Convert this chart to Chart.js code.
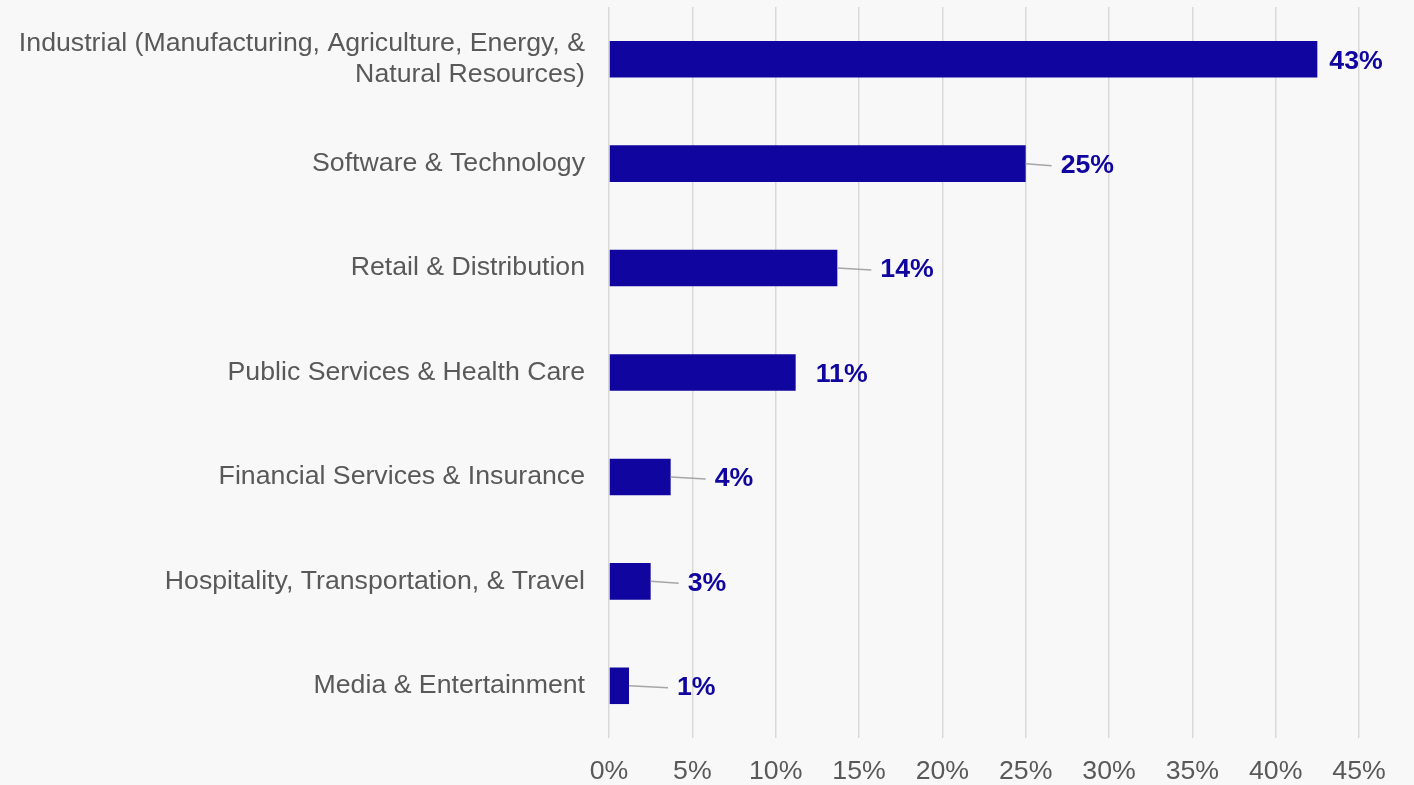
<!DOCTYPE html>
<html>
<head>
<meta charset="utf-8">
<script src="https://cdn.jsdelivr.net/npm/chart.js@4.4.1/dist/chart.umd.min.js"></script>
<style>
    html, body { margin: 0; padding: 0; background: #f8f8f8; }
    #wrap { width: 1414px; height: 785px; position: relative; }
</style>
</head>
<body>
<div id="wrap"><canvas id="industryChart"></canvas></div>
<script>
// data
const categories = [
    ["Industrial (Manufacturing, Agriculture, Energy, &", "Natural Resources)"],
    "Software & Technology",
    "Retail & Distribution",
    "Public Services & Health Care",
    "Financial Services & Insurance",
    "Hospitality, Transportation, & Travel",
    "Media & Entertainment"
];
const shares = [42.5, 25.0, 13.7, 11.2, 3.7, 2.5, 1.2];
const shareLabels = ["43%", "25%", "14%", "11%", "4%", "3%", "1%"];
const xTicks = [0, 5, 10, 15, 20, 25, 30, 35, 40, 45];

const BAR_COLOR = "#10069f";
const TEXT_GREY = "#595959";
const FONT = '"Liberation Sans", Arial, sans-serif';
const FONT_SIZE = 26.7;

// gap between bar end and label start (px); leader drawn when the gap is wide
const labelGap = [12, 35, 43, 20, 44, 37, 48];

const valueLabels = {
    id: "valueLabels",
    afterDatasetsDraw(chart) {
        const ctx = chart.ctx;
        const meta = chart.getDatasetMeta(0);
        ctx.save();
        meta.data.forEach((bar, i) => {
            const gap = labelGap[i];
            const lx = bar.x + gap;
            const ly = bar.y + 2;
            if (gap > 25) {
                ctx.strokeStyle = "#a6a6a6";
                ctx.lineWidth = 1.5;
                ctx.beginPath();
                ctx.moveTo(bar.x, bar.y);
                ctx.lineTo(lx - 9, ly);
                ctx.stroke();
            }
            ctx.fillStyle = BAR_COLOR;
            ctx.font = "bold " + FONT_SIZE + "px " + FONT;
            ctx.textAlign = "left";
            ctx.textBaseline = "middle";
            ctx.fillText(shareLabels[i], lx, ly);
        });
        ctx.restore();
    }
};

const ctx = document.getElementById("industryChart").getContext("2d");
new Chart(ctx, {
    type: "bar",
    data: {
        labels: categories,
        datasets: [{
            data: shares,
            backgroundColor: BAR_COLOR,
            borderWidth: 0,
            barPercentage: 0.35,
            categoryPercentage: 1.0
        }]
    },
    options: {
        indexAxis: "y",
        responsive: true,
        maintainAspectRatio: false,
        animation: false,
        layout: { padding: { left: 0, right: 55, top: 7, bottom: 0 } },
        plugins: {
            legend: { display: false },
            tooltip: { enabled: false }
        },
        scales: {
            x: {
                min: 0,
                max: 45,
                afterBuildTicks: (scale) => { scale.ticks = xTicks.map(v => ({ value: v })); },
                afterFit: (scale) => { scale.height = 47; scale.paddingLeft = 0; scale.paddingRight = 0; },
                grid: { color: "#d9d9d9", lineWidth: 1.5, drawTicks: false },
                border: { display: false },
                ticks: {
                    color: TEXT_GREY,
                    font: { family: FONT, size: FONT_SIZE },
                    padding: 18,
                    callback: (v) => v + "%"
                }
            },
            y: {
                afterFit: (scale) => { scale.width = 609; scale.paddingTop = 0; scale.paddingBottom = 0; },
                grid: { display: false, drawTicks: false },
                border: { display: false },
                ticks: {
                    color: TEXT_GREY,
                    font: { family: FONT, size: FONT_SIZE, lineHeight: 1.15 },
                    padding: 24
                }
            }
        }
    },
    plugins: [valueLabels]
});
</script>
</body>
</html>
